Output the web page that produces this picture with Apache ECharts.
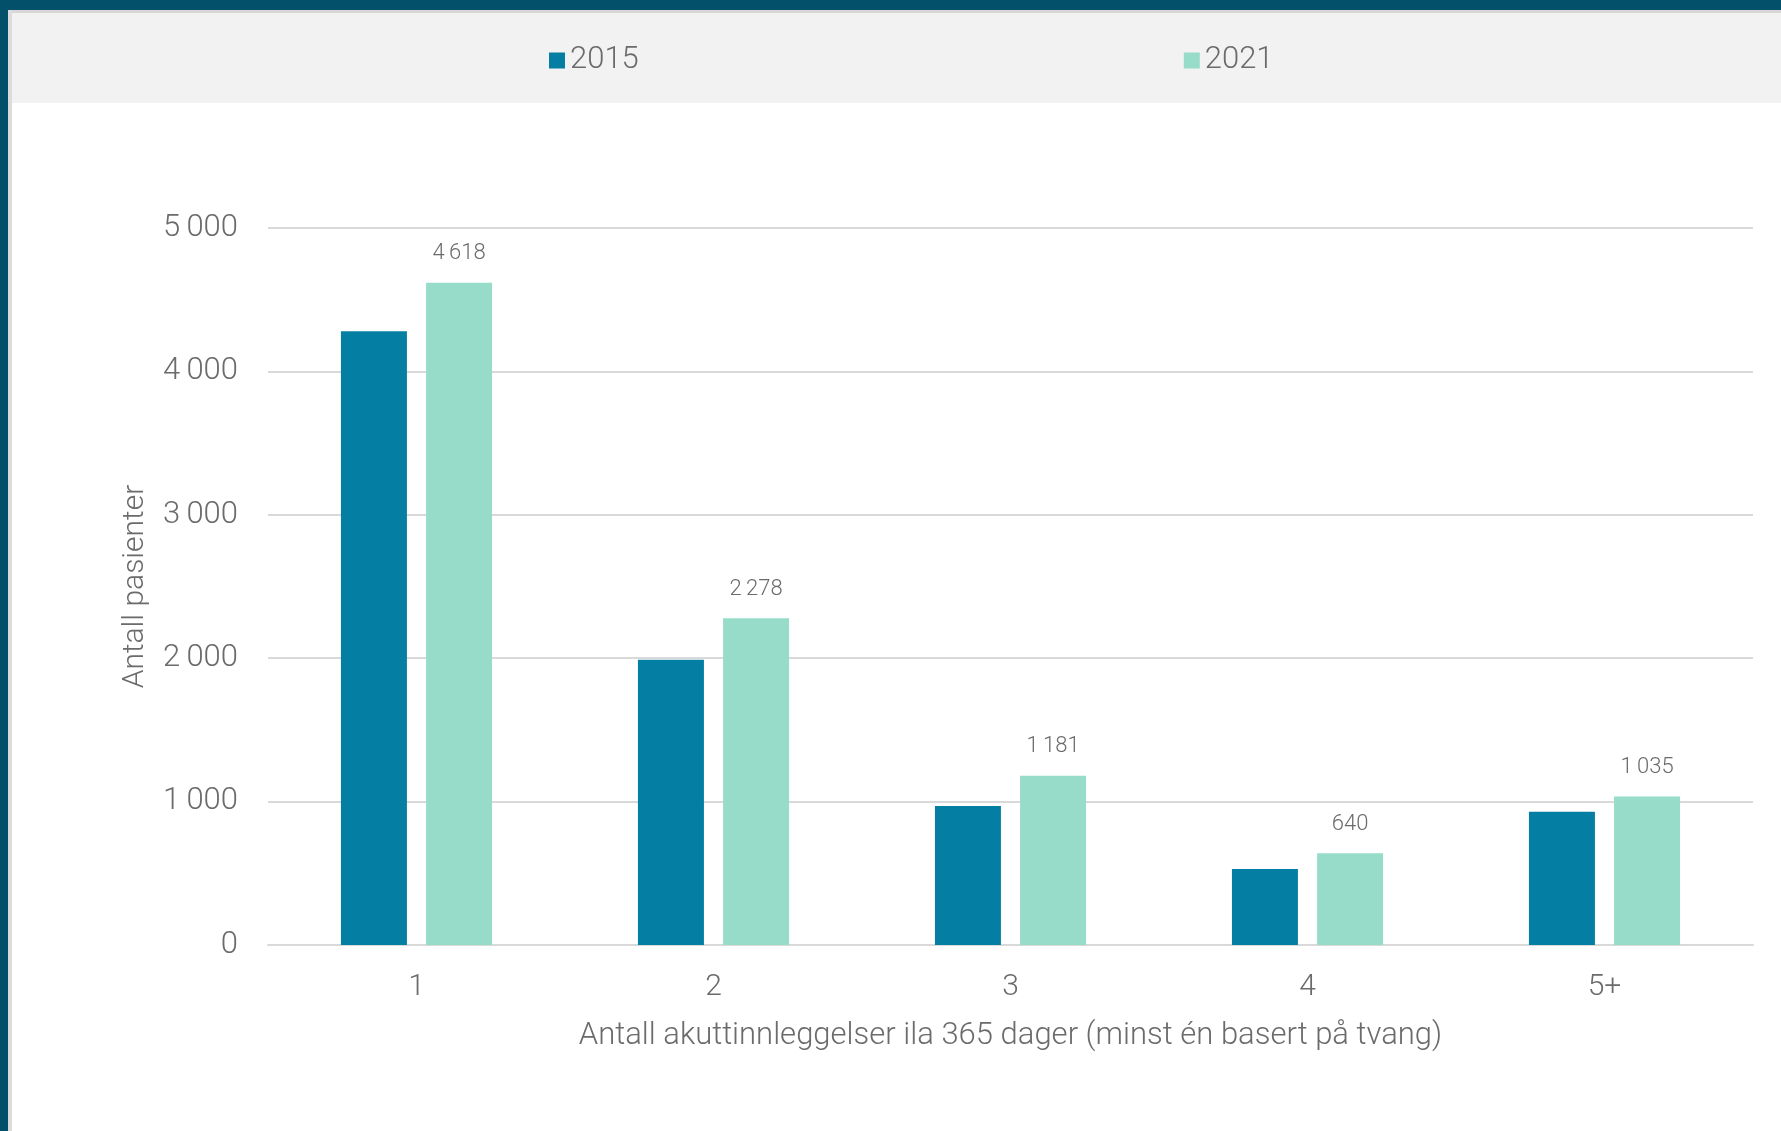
<!DOCTYPE html>
<html>
<head>
<meta charset="utf-8">
<script src="https://cdn.jsdelivr.net/npm/echarts@6/dist/echarts.min.js"></script>
<style>
  html, body { margin: 0; padding: 0; }
  body { width: 1781px; height: 1131px; background: #03506A; position: relative; overflow: hidden; }
  .panel { position: absolute; left: 8px; top: 10px; right: 0; bottom: 0; background: #fff; border-left: 4px solid #dcdcdc; }
  .band { position: absolute; left: 12px; top: 10px; right: 0; height: 90px; background: #f2f2f2; border-top: 3px solid #d8d8d8; }
  #chart { position: absolute; left: 0; top: 0; width: 1781px; height: 1131px; }
</style>
</head>
<body>
<div class="panel"></div>
<div class="band"></div>
<div id="chart"></div>
<script>
const categories = ['1', '2', '3', '4', '5+']
const values2015 = [4280, 1990, 970, 530, 930]
const values2021 = [4618, 2278, 1181, 640, 1035]

// tusenskille med smalt mellomrom, som i originalen
const fmt = v => String(v).replace(/\B(?=(\d{3})+(?!\d))/g, '\u2009')

const chart = echarts.init(document.getElementById('chart'))

const font = 'Roboto, "Noto Sans", sans-serif'

const option = {
  backgroundColor: 'transparent',
  textStyle: { fontFamily: font, fontWeight: 300 },
  legend: {
    left: 544,
    top: 40,
    itemWidth: 16,
    itemHeight: 16,
    itemGap: 545,
    icon: 'rect',
    textStyle: { fontSize: 31, lineHeight: 30, color: '#6b6b6b', fontFamily: font, fontWeight: 300 },
    data: ['2015', '2021']
  },
  grid: { left: 268, right: 28, top: 228, bottom: 186, containLabel: false },
  xAxis: {
    type: 'category',
    data: categories,
    name: 'Antall akuttinnleggelser ila 365 dager (minst én basert på tvang)',
    nameLocation: 'middle',
    nameGap: 76,
    nameTextStyle: { fontSize: 31, color: '#6b6b6b', fontFamily: font, fontWeight: 300 },
    axisLine: { lineStyle: { color: '#d9d9d9', width: 2 } },
    axisTick: { show: false },
    axisLabel: { fontSize: 30, margin: 27, color: '#6b6b6b', fontFamily: font, fontWeight: 300 }
  },
  yAxis: {
    type: 'value',
    min: 0,
    max: 5000,
    interval: 1000,
    name: 'Antall pasienter',
    nameLocation: 'middle',
    nameGap: 118,
    nameTextStyle: { fontSize: 30, color: '#6b6b6b', fontFamily: font, fontWeight: 300 },
    axisLine: { show: false },
    axisTick: { show: false },
    axisLabel: { fontSize: 31, margin: 30, color: '#6b6b6b', fontFamily: font, fontWeight: 300, formatter: fmt },
    splitLine: { lineStyle: { color: '#d9d9d9', width: 2 } }
  },
  series: [
    {
      name: '2015',
      type: 'bar',
      barWidth: 66,
      barGap: '29%',
      itemStyle: { color: '#047FA3' },
      data: values2015
    },
    {
      name: '2021',
      type: 'bar',
      barWidth: 66,
      itemStyle: { color: '#96DCC9' },
      label: {
        show: true,
        position: 'top',
        distance: 18,
        fontSize: 22,
        color: '#6b6b6b',
        fontFamily: font,
        fontWeight: 300,
        formatter: p => fmt(p.value)
      },
      data: values2021
    }
  ]
}

chart.setOption(option)
</script>
</body>
</html>
